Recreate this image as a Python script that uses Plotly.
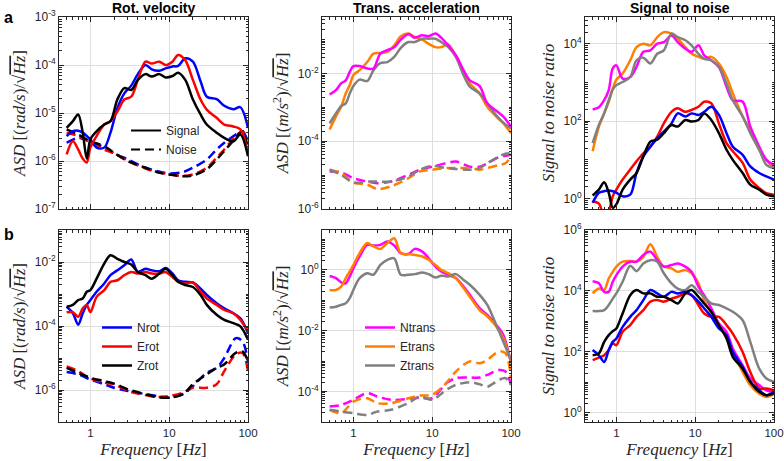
import numpy as np
import plotly.graph_objects as go

# ---------------- data (stored as log10) ----------------
f_sig = [0.5, 0.6, 0.7, 0.8, 0.9, 1.0, 1.2, 1.5, 1.8, 2.2, 2.7, 3.3, 4.0, 5.0, 6.0, 7.5,
         9.0, 11, 13, 16, 20, 25, 30, 40, 50, 65, 80, 100]
f_noise = [0.5, 0.7, 1, 1.5, 2, 3, 5, 7, 10, 15, 20, 30, 40, 50, 70, 85, 100]

# row a, rotational velocity ASD (log10 rad/s/sqrt(Hz))
a_rot_N = [-5.48, -5.38, -5.37, -5.41, -5.48, -5.55, -5.72, -5.72, -5.41, -4.90, -4.59, -4.43, -4.19, -4.00,
           -4.09, -4.12, -4.07, -4.03, -4.02, -3.86, -3.93, -4.34, -4.66, -4.71, -4.85, -4.92, -4.88, -5.31]
a_rot_E = [-5.86, -5.59, -5.76, -5.95, -6.03, -5.72, -5.48, -5.24, -5.17, -4.97, -4.72, -4.66, -4.31, -3.93,
           -3.97, -3.93, -4.00, -3.93, -3.79, -3.90, -4.31, -4.72, -4.93, -5.10, -5.24, -5.28, -5.34, -5.86]
a_rot_Z = [-5.31, -5.17, -5.03, -5.41, -5.95, -5.55, -5.38, -5.24, -5.17, -4.72, -4.48, -4.52, -4.31, -4.19,
           -4.24, -4.19, -4.26, -4.23, -4.16, -4.31, -4.72, -5.03, -5.24, -5.41, -5.52, -5.59, -5.45, -5.90]
a_rotn_N = [-5.62, -5.52, -5.59, -5.72, -5.84, -5.97, -6.14, -6.21, -6.26, -6.23, -6.14, -5.97, -5.76, -5.62, -5.45, -5.38, -5.62]
a_rotn_E = [-5.41, -5.48, -5.62, -5.76, -5.84, -6.00, -6.16, -6.23, -6.28, -6.31, -6.28, -6.14, -5.93, -5.76, -5.48, -5.38, -5.55]
a_rotn_Z = [-5.34, -5.45, -5.59, -5.69, -5.83, -6.00, -6.14, -6.23, -6.28, -6.32, -6.30, -6.17, -5.97, -5.79, -5.52, -5.38, -5.76]

# row a, translational acceleration ASD (log10 m/s^2/sqrt(Hz))
a_tr_N = [-2.62, -2.49, -2.29, -2.20, -1.95, -1.78, -1.78, -1.85, -1.85, -1.41, -1.31, -1.22, -1.00, -0.84,
          -0.94, -0.87, -0.90, -0.82, -0.94, -1.17, -1.46, -1.90, -2.20, -2.37, -2.88, -3.10, -3.27, -3.57]
a_tr_E = [-3.65, -3.27, -2.98, -2.59, -2.34, -2.05, -1.90, -1.66, -1.41, -1.39, -1.36, -1.17, -0.90, -0.82,
          -0.92, -1.00, -1.12, -1.22, -1.22, -1.14, -1.51, -1.95, -2.29, -2.59, -2.98, -3.27, -3.47, -3.76]
a_tr_Z = [-3.47, -3.18, -2.96, -2.88, -2.59, -2.37, -2.18, -2.22, -1.90, -1.69, -1.66, -1.51, -1.24, -1.07,
          -1.07, -0.97, -0.97, -0.97, -1.07, -1.22, -1.51, -2.05, -2.39, -2.59, -2.88, -3.23, -3.45, -3.62]
a_trn_N = [-4.89, -4.92, -5.09, -5.19, -5.24, -5.19, -4.99, -4.84, -4.75, -4.65, -4.60, -4.75, -4.75, -4.65, -4.47, -4.43, -4.40]
a_trn_E = [-4.84, -4.94, -5.22, -5.28, -5.41, -5.33, -5.09, -4.89, -4.84, -4.79, -4.79, -4.79, -4.84, -4.79, -4.70, -4.65, -4.45]
a_trn_Z = [-4.84, -4.99, -5.22, -5.19, -5.19, -5.19, -5.04, -4.84, -4.73, -4.79, -4.82, -4.84, -4.79, -4.65, -4.45, -4.37, -4.35]

# row a, signal to noise ratio (log10)
a_snr_Nt = [2.30, 2.36, 2.54, 2.80, 3.36, 3.44, 3.10, 3.14, 3.40, 3.79, 3.83, 4.00, 4.04, 4.21,
            4.04, 3.87, 3.79, 3.96, 3.70, 3.57, 3.40, 2.89, 2.54, 2.50, 1.86, 1.34, 1.00, 0.87]
a_snr_Et = [1.22, 1.86, 2.20, 2.50, 2.84, 3.07, 3.23, 3.57, 3.91, 4.00, 3.96, 4.17, 4.30, 4.26,
            4.13, 3.91, 3.74, 3.66, 3.61, 3.66, 3.49, 3.14, 2.72, 2.12, 1.77, 1.26, 1.00, 0.79]
a_snr_Zt = [1.43, 1.90, 2.20, 2.54, 2.82, 2.93, 3.01, 3.14, 3.57, 3.64, 3.49, 3.74, 3.83, 4.26,
            4.17, 4.09, 3.96, 3.74, 3.61, 3.57, 3.40, 2.97, 2.54, 2.12, 1.69, 1.26, 0.87, 0.79]
a_snr_Nr = [-0.11, 0.15, 0.19, 0.21, 0.19, 0.15, 0.06, 0.10, 0.66, 1.09, 1.34, 1.56, 1.73, 1.94,
            2.20, 2.12, 2.20, 2.16, 2.24, 2.37, 2.16, 1.69, 1.34, 1.13, 0.83, 0.66, 0.57, 0.49]
a_snr_Er = [-0.07, -0.13, -0.45, -0.33, 0.06, 0.23, 0.49, 0.75, 0.96, 1.17, 1.34, 1.60, 1.94, 2.24,
            2.33, 2.24, 2.29, 2.37, 2.50, 2.46, 1.94, 1.43, 1.22, 0.92, 0.49, 0.27, 0.14, 0.10]
a_snr_Zr = [0.08, 0.23, 0.42, 0.15, -0.24, -0.15, 0.23, 0.49, 0.66, 1.09, 1.47, 1.52, 1.69, 1.90,
            1.86, 2.03, 1.99, 2.03, 2.20, 2.03, 1.69, 1.26, 1.00, 0.66, 0.36, 0.23, 0.10, 0.06]

# row b, rotational velocity ASD
b_rot_N = [-3.40, -3.60, -3.96, -3.60, -3.34, -3.19, -2.93, -2.67, -2.41, -2.26, -2.10, -1.92, -2.31, -2.21,
           -2.26, -2.29, -2.19, -2.36, -2.57, -2.62, -2.64, -2.83, -3.03, -3.29, -3.45, -3.60, -3.76, -4.22]
b_rot_E = [-3.57, -3.57, -3.71, -3.45, -3.34, -3.57, -3.09, -2.88, -2.62, -2.57, -2.41, -2.31, -2.36, -2.31,
           -2.36, -2.36, -2.31, -2.47, -2.62, -2.67, -2.64, -2.93, -3.14, -3.34, -3.50, -3.60, -3.81, -4.17]
b_rot_Z = [-3.40, -3.34, -3.19, -3.14, -2.93, -2.88, -2.52, -2.05, -1.79, -1.90, -2.00, -2.08, -2.31, -2.41,
           -2.52, -2.36, -2.21, -2.41, -2.62, -2.72, -2.78, -3.03, -3.34, -3.65, -3.81, -3.91, -4.01, -4.43]
b_rotn_N = [-5.44, -5.51, -5.67, -5.82, -5.93, -6.03, -6.13, -6.19, -6.24, -6.13, -5.88, -5.46, -5.31, -5.00, -4.38, -4.48, -5.10]
b_rotn_E = [-5.26, -5.41, -5.64, -5.77, -5.82, -6.03, -6.16, -6.22, -6.19, -6.08, -5.93, -5.93, -5.82, -5.41, -4.89, -4.84, -5.41]
b_rotn_Z = [-5.31, -5.46, -5.62, -5.72, -5.80, -5.98, -6.13, -6.22, -6.24, -6.13, -5.82, -5.51, -5.31, -5.20, -4.84, -4.79, -5.10]

# row b, translational acceleration ASD
b_tr_N = [-0.20, -0.27, -0.41, -0.44, -0.22, 0.05, 0.44, 0.82, 0.80, 0.82, 0.93, 0.80, 0.55, 0.52,
          0.69, 0.60, 0.38, 0.11, -0.05, -0.16, -0.27, -0.55, -0.82, -1.26, -1.48, -1.81, -2.14, -3.07]
b_tr_E = [-0.66, -0.66, -0.55, -0.27, -0.05, 0.16, 0.55, 0.88, 0.77, 0.69, 0.88, 1.04, 0.55, 0.52,
          0.49, 0.44, 0.33, 0.16, 0.00, -0.11, -0.27, -0.60, -0.88, -1.32, -1.53, -1.86, -2.25, -3.01]
b_tr_Z = [-1.24, -1.21, -1.15, -1.10, -0.93, -0.66, -0.27, -0.11, -0.16, 0.16, 0.33, 0.38, -0.16, -0.16,
          -0.14, -0.09, -0.14, -0.25, -0.19, -0.22, -0.14, -0.33, -0.49, -0.82, -1.15, -1.81, -2.36, -2.96]
b_trn_N = [-4.49, -4.44, -4.27, -4.05, -4.16, -4.27, -4.24, -4.20, -4.22, -3.73, -3.56, -3.54, -3.54, -3.45, -3.29, -3.34, -3.78]
b_trn_E = [-4.60, -4.71, -4.33, -4.22, -4.38, -4.38, -4.22, -4.13, -4.11, -3.73, -3.34, -3.01, -3.07, -2.96, -2.68, -2.74, -3.56]
b_trn_Z = [-4.60, -4.66, -4.71, -4.77, -4.66, -4.60, -4.38, -4.16, -4.27, -3.95, -3.78, -3.69, -3.76, -3.84, -3.62, -3.56, -3.78]

# row b, signal to noise ratio
b_snr_Nt = [4.32, 4.25, 3.97, 3.97, 4.30, 4.52, 4.80, 4.96, 4.96, 5.18, 5.29, 5.01, 4.80, 4.85,
            4.90, 4.80, 4.63, 4.14, 3.86, 3.43, 2.93, 2.66, 2.11, 1.56, 1.13, 0.91, 0.74, 0.69]
b_snr_Et = [3.92, 4.08, 4.03, 4.41, 4.63, 4.80, 4.96, 4.98, 4.96, 5.12, 5.53, 5.12, 4.80, 4.74,
            4.63, 4.69, 4.58, 4.25, 3.70, 3.26, 2.88, 2.44, 2.00, 1.34, 0.91, 0.63, 0.52, 0.63]
b_snr_Zt = [3.34, 3.34, 3.37, 3.54, 3.75, 3.92, 4.30, 4.83, 4.65, 4.90, 5.01, 4.96, 4.58, 4.25,
            4.08, 4.03, 4.19, 3.97, 3.81, 3.59, 3.54, 3.43, 3.32, 3.04, 2.33, 1.45, 1.13, 1.02]
b_snr_Nr = [2.06, 1.89, 1.67, 2.06, 2.33, 2.44, 2.82, 3.15, 3.37, 3.70, 4.03, 3.92, 3.81, 3.97,
            3.92, 3.97, 3.86, 3.65, 3.43, 3.15, 2.77, 2.55, 2.00, 1.51, 1.02, 0.74, 0.58, 0.69]
b_snr_Er = [1.73, 1.81, 1.89, 2.06, 2.28, 2.22, 2.66, 2.88, 3.15, 3.37, 3.65, 3.70, 3.65, 3.75,
            3.81, 3.92, 3.86, 3.54, 3.26, 3.15, 3.15, 2.88, 2.60, 2.00, 1.34, 0.80, 0.80, 0.74]
b_snr_Zr = [1.89, 1.95, 2.33, 2.55, 2.68, 2.77, 3.26, 3.86, 4.03, 3.92, 3.92, 3.81, 3.81, 3.70,
            3.59, 3.92, 4.03, 3.81, 3.59, 3.32, 2.88, 2.44, 1.84, 1.45, 1.02, 0.69, 0.58, 0.63]

titles = ["Rot. velocity", "Trans. acceleration", "Signal to noise"]
x_ticks = [1, 10, 100]
x_ticktext = ["1", "10", "100"]

# ---------------- styling ----------------
C_N, C_E, C_Z = "#0000ff", "#ff0000", "#000000"
C_Nt, C_Et, C_Zt = "#ff00ff", "#ff8000", "#808080"
LW = 2.5
DASH = "9px,5px"
AX = "#262626"
GRID = "#dedede"
SANS = "Liberation Sans, Arial, sans-serif"
SERIF = "Liberation Serif, Times New Roman, serif"

W, H = 784, 461
cols = [(59, 248), (322, 511), (585, 774)]
rows = [(17, 209), (230, 422)]


def pd_x(px):
    return px / W


def pd_y(py):
    return 1 - py / H


def v(arr):
    return [10 ** a for a in arr]


fig = go.Figure()


def add(panel, f, arr, color, dash=None, name=None, legend=None):
    fig.add_trace(go.Scatter(
        x=f, y=v(arr), mode="lines", line=dict(color=color, width=LW, dash=dash, shape="spline", smoothing=0.9),
        xaxis=f"x{panel}" if panel > 1 else "x", yaxis=f"y{panel}" if panel > 1 else "y",
        name=name, showlegend=legend is not None, legend=legend, hoverinfo="skip"))


# panel 1: row a rot
add(1, f_noise, a_rotn_N, C_N, DASH)
add(1, f_noise, a_rotn_E, C_E, DASH)
add(1, f_noise, a_rotn_Z, C_Z, DASH)
add(1, f_sig, a_rot_N, C_N)
add(1, f_sig, a_rot_E, C_E)
add(1, f_sig, a_rot_Z, C_Z)
# legend entries Signal / Noise
fig.add_trace(go.Scatter(x=[None], y=[None], mode="lines", line=dict(color="black", width=2),
                         name="Signal", legend="legend", showlegend=True))
fig.add_trace(go.Scatter(x=[None], y=[None], mode="lines", line=dict(color="black", width=2, dash=DASH),
                         name="Noise", legend="legend", showlegend=True))

# panel 2: row a trans
add(2, f_noise, a_trn_N, C_Nt, DASH)
add(2, f_noise, a_trn_E, C_Et, DASH)
add(2, f_noise, a_trn_Z, C_Zt, DASH)
add(2, f_sig, a_tr_E, C_Et)
add(2, f_sig, a_tr_Z, C_Zt)
add(2, f_sig, a_tr_N, C_Nt)

# panel 3: row a snr
add(3, f_sig, a_snr_Et, C_Et)
add(3, f_sig, a_snr_Nt, C_Nt)
add(3, f_sig, a_snr_Zt, C_Zt)
add(3, f_sig, a_snr_Er, C_E)
add(3, f_sig, a_snr_Nr, C_N)
add(3, f_sig, a_snr_Zr, C_Z)

# panel 4: row b rot
add(4, f_noise, b_rotn_N, C_N, DASH)
add(4, f_noise, b_rotn_E, C_E, DASH)
add(4, f_noise, b_rotn_Z, C_Z, DASH)
add(4, f_sig, b_rot_N, C_N, name="Nrot", legend="legend2")
add(4, f_sig, b_rot_E, C_E, name="Erot", legend="legend2")
add(4, f_sig, b_rot_Z, C_Z, name="Zrot", legend="legend2")

# panel 5: row b trans
add(5, f_noise, b_trn_N, C_Nt, DASH)
add(5, f_noise, b_trn_E, C_Et, DASH)
add(5, f_noise, b_trn_Z, C_Zt, DASH)
add(5, f_sig, b_tr_N, C_Nt, name="Ntrans", legend="legend3")
add(5, f_sig, b_tr_E, C_Et, name="Etrans", legend="legend3")
add(5, f_sig, b_tr_Z, C_Zt, name="Ztrans", legend="legend3")

# panel 6: row b snr
add(6, f_sig, b_snr_Et, C_Et)
add(6, f_sig, b_snr_Nt, C_Nt)
add(6, f_sig, b_snr_Zt, C_Zt)
add(6, f_sig, b_snr_Er, C_E)
add(6, f_sig, b_snr_Nr, C_N)
add(6, f_sig, b_snr_Zr, C_Z)

# ---------------- axes ----------------
minor_x = [d * 10 ** k for k in (-1, 0, 1) for d in range(2, 10) if 0.4 <= d * 10 ** k <= 100]


def minor_y(lo, hi):
    out = []
    for k in range(int(np.floor(lo)) - 1, int(np.ceil(hi)) + 1):
        for d in range(1, 10):
            val = d * 10.0 ** k
            if lo <= np.log10(val) <= hi:
                out.append(val)
    return out


def sup(k):
    return f"10<sup>{k}</sup>"


ytitle_rot = "<i>ASD</i> [(<i>rad/s</i>)/√<span style='text-decoration:overline'><i>Hz</i></span>]"
ytitle_tr = "<i>ASD</i> [(<i>m/s</i><sup>2</sup>)/√<span style='text-decoration:overline'><i>Hz</i></span>]"
ytitle_snr = "<i>Signal to noise ratio</i>"
xtitle = "<i>Frequency</i> [<i>Hz</i>]"

ycfg = {
    1: ([-7, -3], [-7, -6, -5, -4, -3], ytitle_rot),
    2: ([-6, -0.33], [-6, -4, -2], ytitle_tr),
    3: ([-0.27, 4.69], [0, 2, 4], ytitle_snr),
    4: ([-7, -1], [-6, -4, -2], ytitle_rot),
    5: ([-5, 1.31], [-4, -2, 0], ytitle_tr),
    6: ([-0.3, 6], [0, 2, 4, 6], ytitle_snr),
}

layout = dict(width=W, height=H, margin=dict(l=0, r=0, t=0, b=0, autoexpand=False),
              paper_bgcolor="white", plot_bgcolor="white", showlegend=True,
              font=dict(family=SANS, color="black"))

for p in range(1, 7):
    r = 0 if p <= 3 else 1
    c = (p - 1) % 3
    xs = "" if p == 1 else str(p)
    yr, yt, ytitle = ycfg[p]
    layout["xaxis" + xs] = dict(
        type="log", domain=[pd_x(cols[c][0]), pd_x(cols[c][1])], anchor="y" + xs,
        range=[np.log10(0.4), 2], tickmode="array", tickvals=x_ticks, ticktext=x_ticktext,
        showticklabels=(r == 1), ticks="inside", ticklen=5, tickwidth=1, tickcolor=AX,
        showline=True, linecolor=AX, linewidth=1, mirror="allticks", automargin=False,
        ticklabeloverflow="allow",
        showgrid=True, gridcolor=GRID, gridwidth=1, zeroline=False,
        minor=dict(tickmode="array", tickvals=minor_x, ticks="inside", ticklen=2.5, tickcolor=AX, showgrid=False),
        tickfont=dict(family=SANS, size=11.5, color=AX),
        title=dict(text=xtitle if r == 1 else "", font=dict(family=SERIF, size=17, color=AX), standoff=5),
    )
    layout["yaxis" + xs] = dict(
        type="log", domain=[pd_y(rows[r][1]), pd_y(rows[r][0])], anchor="x" + xs,
        range=yr, tickmode="array", tickvals=[10.0 ** k for k in yt], ticktext=[sup(k) for k in yt],
        ticks="inside", ticklen=5, tickwidth=1, tickcolor=AX, automargin=False,
        showline=True, linecolor=AX, linewidth=1, mirror="allticks",
        showgrid=True, gridcolor=GRID, gridwidth=1, zeroline=False,
        minor=dict(tickmode="array", tickvals=minor_y(yr[0], yr[1]), ticks="inside", ticklen=2.5,
                   tickcolor=AX, showgrid=False),
        tickfont=dict(family=SANS, size=12, color=AX),
        title=dict(text=ytitle, font=dict(family=SERIF, size=17, color=AX), standoff=4),
    )

leg_common = dict(bgcolor="rgba(0,0,0,0)", borderwidth=0, font=dict(family=SANS, size=12, color=AX),
                  xanchor="left", yanchor="top", tracegroupgap=0, itemclick=False, itemdoubleclick=False)
layout["legend"] = dict(leg_common, x=pd_x(126), y=pd_y(116))
layout["legend2"] = dict(leg_common, x=pd_x(97), y=pd_y(313))
layout["legend3"] = dict(leg_common, x=pd_x(360), y=pd_y(313))

ann = []
for c, t in enumerate(titles):
    ann.append(dict(text=f"<b>{t}</b>", x=pd_x((cols[c][0] + cols[c][1]) / 2), y=pd_y(8),
                    xref="paper", yref="paper", xanchor="center", yanchor="middle", showarrow=False,
                    font=dict(family=SANS, size=14, color="black")))
ann.append(dict(text="<b>a</b>", x=pd_x(2), y=pd_y(17), xref="paper", yref="paper", xanchor="left",
                yanchor="middle", showarrow=False, font=dict(family=SANS, size=16, color="black")))
ann.append(dict(text="<b>b</b>", x=pd_x(2), y=pd_y(234), xref="paper", yref="paper", xanchor="left",
                yanchor="middle", showarrow=False, font=dict(family=SANS, size=16, color="black")))
layout["annotations"] = ann

fig.update_layout(**layout)
fig.write_html("out.html", config={"displayModeBar": False, "staticPlot": True},
               post_script="document.body.style.margin='0';document.body.style.overflow='hidden';")
